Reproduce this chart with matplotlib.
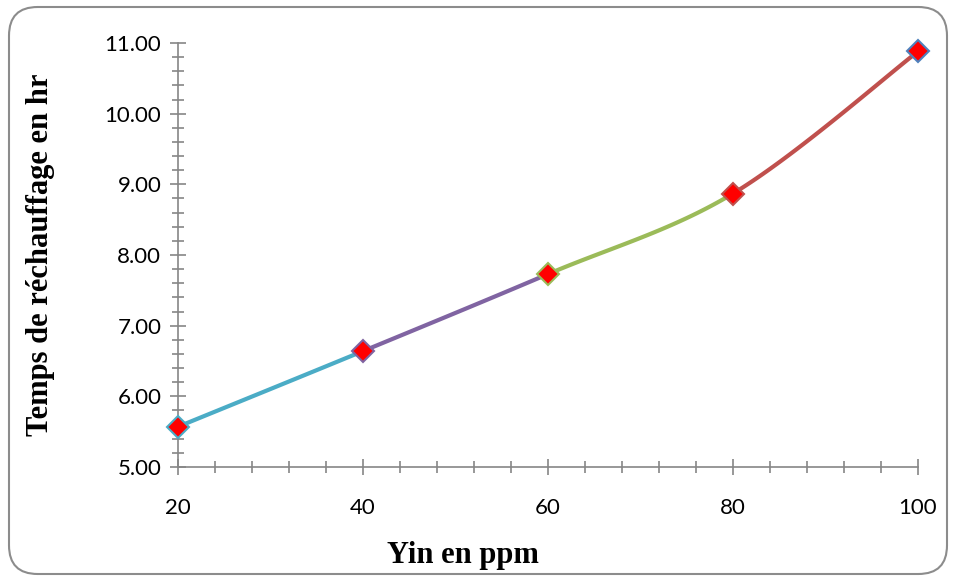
import numpy as np
import matplotlib
matplotlib.use("Agg")
import matplotlib.pyplot as plt
from matplotlib.patches import FancyBboxPatch
from matplotlib.ticker import MultipleLocator, FormatStrFormatter

x_vals = [20, 40, 60, 80, 100]
y_vals = [5.57, 6.64, 7.73, 8.87, 10.88]
seg_colors = ["#4BACC6", "#8064A2", "#9BBB59", "#C0504D"]
edge_colors = ["#4BACC6", "#8064A2", "#9BBB59", "#C0504D", "#4F81BD"]

W, H = 956, 584
fig = plt.figure(figsize=(W / 100, H / 100), dpi=100)
ax = fig.add_axes([178 / W, 1 - 467 / H, (918 - 178) / W, (467 - 43) / H])
ax.set_xlim(20, 100)
ax.set_ylim(5, 11)

# border
fig.patches.append(FancyBboxPatch((9 / W, 10 / H), (947 - 9) / W, (577 - 10) / H,
                                  boxstyle="round,pad=0,rounding_size=0.03",
                                  transform=fig.transFigure, fill=False,
                                  edgecolor="#8C8C8C", linewidth=1.5,
                                  mutation_aspect=W / H))

# Excel-like smoothing in pixel space
xp = np.array([(v - 20) / 80 * 740 for v in x_vals])
yp = np.array([(v - 5) / 6 * 424 for v in y_vals])
P = np.column_stack([xp, yp])
n = len(P)
t = np.linspace(0, 1, 60)
for i in range(n - 1):
    p0 = P[i - 1] if i > 0 else P[i]
    p1 = P[i]
    p2 = P[i + 1]
    p3 = P[i + 2] if i + 2 < n else P[i + 1]
    c1 = p1 + (p2 - p0) / 6
    c2 = p2 - (p3 - p1) / 6
    B = ((1 - t) ** 3)[:, None] * p1 + (3 * (1 - t) ** 2 * t)[:, None] * c1 + \
        (3 * (1 - t) * t ** 2)[:, None] * c2 + (t ** 3)[:, None] * p2
    bx = B[:, 0] / 740 * 80 + 20
    by = B[:, 1] / 424 * 6 + 5
    ax.plot(bx, by, color=seg_colors[i], lw=3, solid_capstyle="round", zorder=2)

for xv, yv, ec in zip(x_vals, y_vals, edge_colors):
    ax.plot([xv], [yv], marker="D", markersize=11, markerfacecolor="#FF0000",
            markeredgecolor=ec, markeredgewidth=1.5, clip_on=False, zorder=3)

for s in ["top", "right"]:
    ax.spines[s].set_visible(False)
for s in ["left", "bottom"]:
    ax.spines[s].set_color("#868686")
    ax.spines[s].set_linewidth(1.2)

ax.xaxis.set_major_locator(MultipleLocator(20))
ax.xaxis.set_minor_locator(MultipleLocator(4))
ax.yaxis.set_major_locator(MultipleLocator(1))
ax.yaxis.set_minor_locator(MultipleLocator(0.2))
ax.yaxis.set_major_formatter(FormatStrFormatter("%.2f"))
ax.tick_params(which="major", direction="inout", length=12, width=1.2, color="#868686",
               labelsize=16, pad=6)
ax.tick_params(which="minor", direction="inout", length=8, width=1.2, color="#868686")
ax.tick_params(axis="x", which="major", pad=16)
for lab in ax.get_xticklabels() + ax.get_yticklabels():
    lab.set_fontfamily("Lato")

ax.set_xlabel("Yin en ppm", fontfamily="Liberation Serif", fontweight="bold",
              fontsize=22)
ax.set_ylabel("Temps de réchauffage en hr", fontfamily="Liberation Serif",
              fontweight="bold", fontsize=22)
ax.xaxis.set_label_coords((463 - 178) / 740, -(541 - 467) / 424)
ax.yaxis.set_label_coords(-(178 - 55) / 740, 0.5)
ax.patch.set_alpha(0)

fig.savefig("out.png", dpi=100)
